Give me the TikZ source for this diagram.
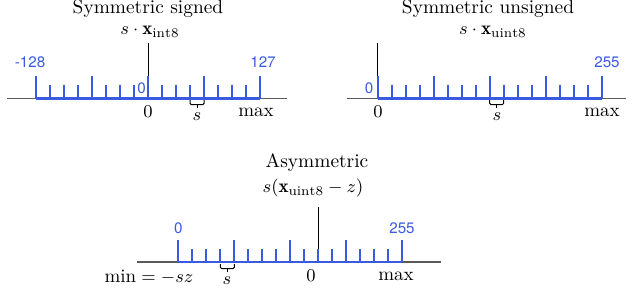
\documentclass[tikz,border=0pt]{standalone}
\usepackage{fontspec}
\newfontfamily\lblfont{TeX Gyre Heros}
\usepackage{amsmath}
\definecolor{tickblue}{HTML}{3A5BE0}
\definecolor{axisgray}{HTML}{5A5A5A}
\begin{document}
\begin{tikzpicture}[x=0.5pt,y=-0.5pt,
  axisline/.style={draw=axisgray,line width=0.9pt},
  tickline/.style={draw=tickblue,line width=1.05pt},
  zeroline/.style={draw=black,line width=0.5pt},
  bracestyle/.style={draw=black,line width=0.5pt,rounded corners=0.6pt},
  titletext/.style={font=\fontsize{9.7}{11}\selectfont,inner sep=0pt},
  mathtext/.style={font=\fontsize{9.5}{11}\selectfont,inner sep=0pt},
  bluetext/.style={text=tickblue,font=\lblfont\fontsize{7.6}{9}\selectfont,inner sep=0pt}]
\useasboundingbox (0,0) rectangle (640,306);

% ---------- Panel 1: symmetric signed ----------
\draw[axisline] (7,98.5) -- (287,98.5);
\draw[tickline] (36,98.5) -- (260,98.5);
\foreach \i in {0,...,16}{
  \pgfmathsetmacro{\xx}{36+14*\i}
  \pgfmathtruncatemacro{\m}{mod(\i,4)}
  \ifnum\m=0 \draw[tickline] (\xx,98.5) -- (\xx,76);
  \else \draw[tickline] (\xx,98.5) -- (\xx,85); \fi
}
\draw[zeroline] (148,43) -- (148,76);
\draw[bracestyle] (190,100) -- (190,104.5) -- (204,104.5) -- (204,100);
\draw[bracestyle] (197,104.5) -- (197,107.5);
\node[titletext] (t1) at (148,9) {Symmetric signed};
\node[mathtext] (f1) at (150,32) {$s\cdot\mathbf{x}_{\mathrm{int8}}$};
\node[bluetext] (b1a) at (30,62) {-128};
\node[bluetext] (b1b) at (263,62) {127};
\node[bluetext] (b1c) at (141.5,88) {0};
\node[mathtext] (z1) at (148,112) {$0$};
\node[mathtext] (m1) at (256,112) {max};
\node[mathtext] (s1) at (197,117) {$s$};

% ---------- Panel 2: symmetric unsigned ----------
\draw[axisline] (347,98.5) -- (626,98.5);
\draw[tickline] (377.7,98.5) -- (601.7,98.5);
\foreach \i in {0,...,16}{
  \pgfmathsetmacro{\xx}{377.7+14*\i}
  \pgfmathtruncatemacro{\m}{mod(\i,4)}
  \ifnum\m=0 \draw[tickline] (\xx,98.5) -- (\xx,76);
  \else \draw[tickline] (\xx,98.5) -- (\xx,85); \fi
}
\draw[zeroline] (377.7,43) -- (377.7,76);
\draw[bracestyle] (489.7,100) -- (489.7,104.5) -- (503.7,104.5) -- (503.7,100);
\draw[bracestyle] (496.7,104.5) -- (496.7,107.5);
\node[titletext] (t2) at (488,9) {Symmetric unsigned};
\node[mathtext] (f2) at (493,32) {$s\cdot\mathbf{x}_{\mathrm{uint8}}$};
\node[bluetext] (b2a) at (369,88) {0};
\node[bluetext] (b2b) at (607,62) {255};
\node[mathtext] (z2) at (378,112) {$0$};
\node[mathtext] (m2) at (602,112) {max};
\node[mathtext] (s2) at (497,117) {$s$};

% ---------- Panel 3: asymmetric ----------
\draw[axisline] (137,262.3) -- (441,262.3);
\draw[tickline] (178.3,262.3) -- (402.3,262.3);
\foreach \i in {0,...,16}{
  \pgfmathsetmacro{\xx}{178.3+14*\i}
  \pgfmathtruncatemacro{\m}{mod(\i,4)}
  \ifnum\m=0 \draw[tickline] (\xx,262.3) -- (\xx,239.5);
  \else \draw[tickline] (\xx,262.3) -- (\xx,248.5); \fi
}
\draw[zeroline] (318.3,207) -- (318.3,248.5);
\draw[bracestyle] (220.3,264) -- (220.3,268.5) -- (234.3,268.5) -- (234.3,264);
\draw[bracestyle] (227.3,268.5) -- (227.3,271.5);
\node[titletext] (t3) at (317,163) {Asymmetric};
\node[mathtext] (f3) at (313,188) {$s(\mathbf{x}_{\mathrm{uint8}}-z)$};
\node[bluetext] (b3a) at (178.3,228) {0};
\node[bluetext] (b3b) at (402,228) {255};
\node[mathtext] (mn3) at (149,277) {$\min=-sz$};
\node[mathtext] (s3) at (227,281) {$s$};
\node[mathtext] (z3) at (311,276) {$0$};
\node[mathtext] (m3) at (396,276) {max};
\end{tikzpicture}
\end{document}
